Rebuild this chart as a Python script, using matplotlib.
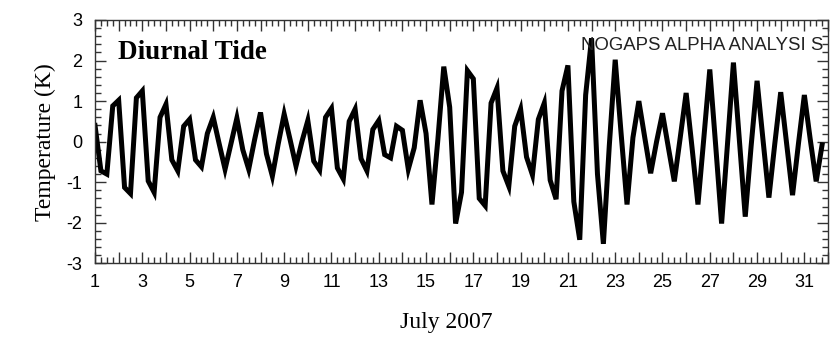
import numpy as np
import matplotlib
matplotlib.use("Agg")
import matplotlib.pyplot as plt
from matplotlib.ticker import MultipleLocator, FuncFormatter

plt.rcParams["axes.unicode_minus"] = False

# 6-hourly diurnal tide temperature (K), starting 1 July 2007 00Z
temp = [
    0.40, -0.72, -0.80, 0.88, 1.02, -1.13, -1.28, 1.08, 1.25, -0.97,
    -1.25, 0.60, 0.92, -0.45, -0.72, 0.38, 0.55, -0.45, -0.62, 0.20,
    0.60, -0.05, -0.68, -0.05, 0.58, -0.20, -0.68, 0.05, 0.72, -0.30,
    -0.85, -0.05, 0.68, 0.05, -0.60, 0.00, 0.52, -0.48, -0.70, 0.60,
    0.82, -0.65, -0.92, 0.50, 0.80, -0.42, -0.72, 0.30, 0.52, -0.32,
    -0.40, 0.38, 0.28, -0.68, -0.15, 1.02, 0.20, -1.55, 0.05, 1.85,
    0.85, -2.02, -1.25, 1.75, 1.55, -1.40, -1.58, 0.95, 1.32, -0.72,
    -1.10, 0.38, 0.80, -0.38, -0.82, 0.55, 0.95, -0.95, -1.42, 1.25,
    1.88, -1.48, -2.42, 1.15, 2.55, -0.80, -2.52, -0.10, 2.02, 0.20,
    -1.55, 0.10, 1.00, 0.10, -0.78, 0.00, 0.70, -0.15, -0.98, 0.10,
    1.20, -0.15, -1.55, 0.10, 1.78, -0.10, -2.02, -0.05, 1.95, 0.05,
    -1.85, -0.10, 1.50, 0.05, -1.38, -0.05, 1.22, -0.05, -1.32, -0.05,
    1.15, 0.05, -0.98, -0.08,
]
start_day = 1
step_days = 0.25
x_range = (1, 32)
y_range = (-3, 3)

days = start_day + step_days * np.arange(len(temp))

fig = plt.figure(figsize=(8.32, 3.37), dpi=100)
ax = fig.add_axes([0.1142, 0.2187, 0.8810, 0.7220])

ax.plot(days, temp, color="black", lw=3.6, solid_joinstyle="miter")

ax.set_xlim(*x_range)
ax.set_ylim(*y_range)

# ticks: major every day (labels every other day), minor every 6 h
ax.xaxis.set_major_locator(MultipleLocator(1))
ax.xaxis.set_minor_locator(MultipleLocator(0.25))
ax.xaxis.set_major_formatter(FuncFormatter(lambda v, p: "%d" % v if int(round(v)) % 2 == 1 else ""))
ax.yaxis.set_major_locator(MultipleLocator(1))
ax.yaxis.set_minor_locator(MultipleLocator(0.2))

ax.tick_params(which="both", direction="in", top=True, right=True, color="#333333", width=1)
ax.tick_params(which="major", length=8)
ax.tick_params(which="minor", length=4)
ax.tick_params(axis="x", which="major", pad=8)
ax.tick_params(axis="y", which="major", pad=9)
for lab in ax.get_xticklabels() + ax.get_yticklabels():
    lab.set_fontfamily("Liberation Sans")
    lab.set_fontsize(13)

for s in ax.spines.values():
    s.set_color("#333333")
    s.set_linewidth(1)

ax.set_xlabel("July 2007", family="Liberation Serif", fontsize=17, labelpad=13)
ax.xaxis.set_label_coords(0.479, -0.2)
ax.xaxis.label.set_va("top")
ax.set_ylabel("Temperature (K)", family="Liberation Serif", fontsize=17, labelpad=8)

ax.text(0.031, 0.868, "Diurnal Tide", transform=ax.transAxes, family="Liberation Serif",
        fontweight="bold", fontsize=19.5, va="center", ha="left")
ax.text(0.993, 0.897, "NOGAPS ALPHA ANALYSI S", transform=ax.transAxes, family="Liberation Sans",
        fontsize=13.4, va="center", ha="right", color="#222222")

fig.savefig("out.png", dpi=100)
